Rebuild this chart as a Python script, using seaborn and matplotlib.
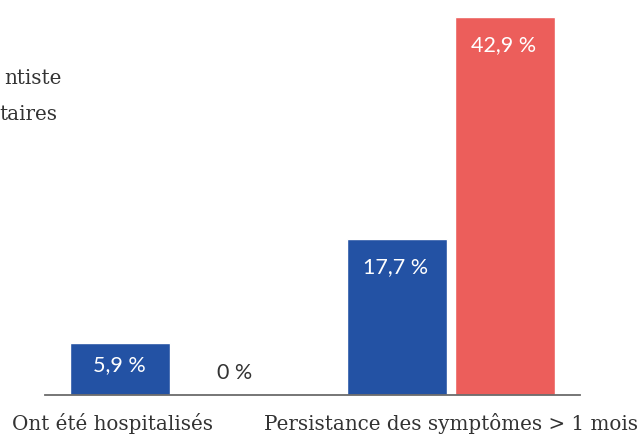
import matplotlib
matplotlib.use("Agg")
import matplotlib.pyplot as plt
import matplotlib.transforms as mtrans
import seaborn as sns
import pandas as pd

categories = ["Ont été hospitalisés", "Persistance des symptômes > 1 mois"]
# legend labels: only their ends are visible in the reference (cut at the left edge)
series = ["ntiste", "taires"]
values_blue = [5.9, 17.7]
values_red = [0.0, 42.9]
value_labels_blue = ["5,9 %", "17,7 %"]
value_labels_red = ["0 %", "42,9 %"]

BLUE = "#2352A4"
RED = "#EC5E5B"
TEXT = "#333333"

df = pd.DataFrame({
    "cat": categories * 2,
    "series": [series[0]] * 2 + [series[1]] * 2,
    "val": values_blue + values_red,
})

sns.set_theme(style="white")
plt.rcParams["font.family"] = ["DejaVu Serif", "DejaVu Sans"]

W, H = 642, 434
fig = plt.figure(figsize=(W / 100, H / 100), dpi=100)
ax = fig.add_axes([45 / W, 39 / H, 535 / W, (H - 39) / H])

sns.barplot(data=df, x="cat", y="val", hue="series", order=categories,
            hue_order=series, palette=[BLUE, RED], width=0.78, gap=0.07,
            saturation=1, legend=False, ax=ax)

ax.set_xlim(-0.466, 1.466)
ax.set_ylim(0, 44.8)
ax.set_xlabel("")
ax.set_ylabel("")
ax.set_yticks([])
for s in ["top", "right", "left"]:
    ax.spines[s].set_visible(False)
ax.spines["bottom"].set_color("#6b6b6b")
ax.spines["bottom"].set_linewidth(1.3)
ax.tick_params(axis="x", length=0, pad=13, labelsize=14.3, labelcolor=TEXT)

# shift the first category label as in the reference
lbls = ax.get_xticklabels()
lbls[0].set_transform(lbls[0].get_transform() +
                      mtrans.ScaledTranslation(-0.62, 0, fig.dpi_scale_trans))

# value labels
px_per_unit = (H - 39) / 44.8
for container, labs in zip(ax.containers, [value_labels_blue, value_labels_red]):
    for bar, lab in zip(container, labs):
        h = bar.get_height()
        cx = bar.get_x() + bar.get_width() / 2
        if h > 0:
            off = min(28, h * px_per_unit * 0.42)
            ax.annotate(lab, (cx, h), xytext=(-1, -off), textcoords="offset pixels",
                        ha="center", va="center", color="white", fontsize=15.5,
                        family=["Lato", "DejaVu Sans"])
        else:
            ax.annotate(lab, (cx + 0.024, 0), xytext=(0, 22), textcoords="offset pixels",
                        ha="center", va="center", color=TEXT, fontsize=15.5,
                        family=["Lato", "DejaVu Sans"])

# legend text (only the ends are visible in the reference)
fig.text(62 / W, 1 - 78 / H, series[0], ha="right", va="center", fontsize=14.3, color=TEXT)
fig.text(57 / W, 1 - 114 / H, series[1], ha="right", va="center", fontsize=14.3, color=TEXT)

fig.savefig("out.png", dpi=100)
